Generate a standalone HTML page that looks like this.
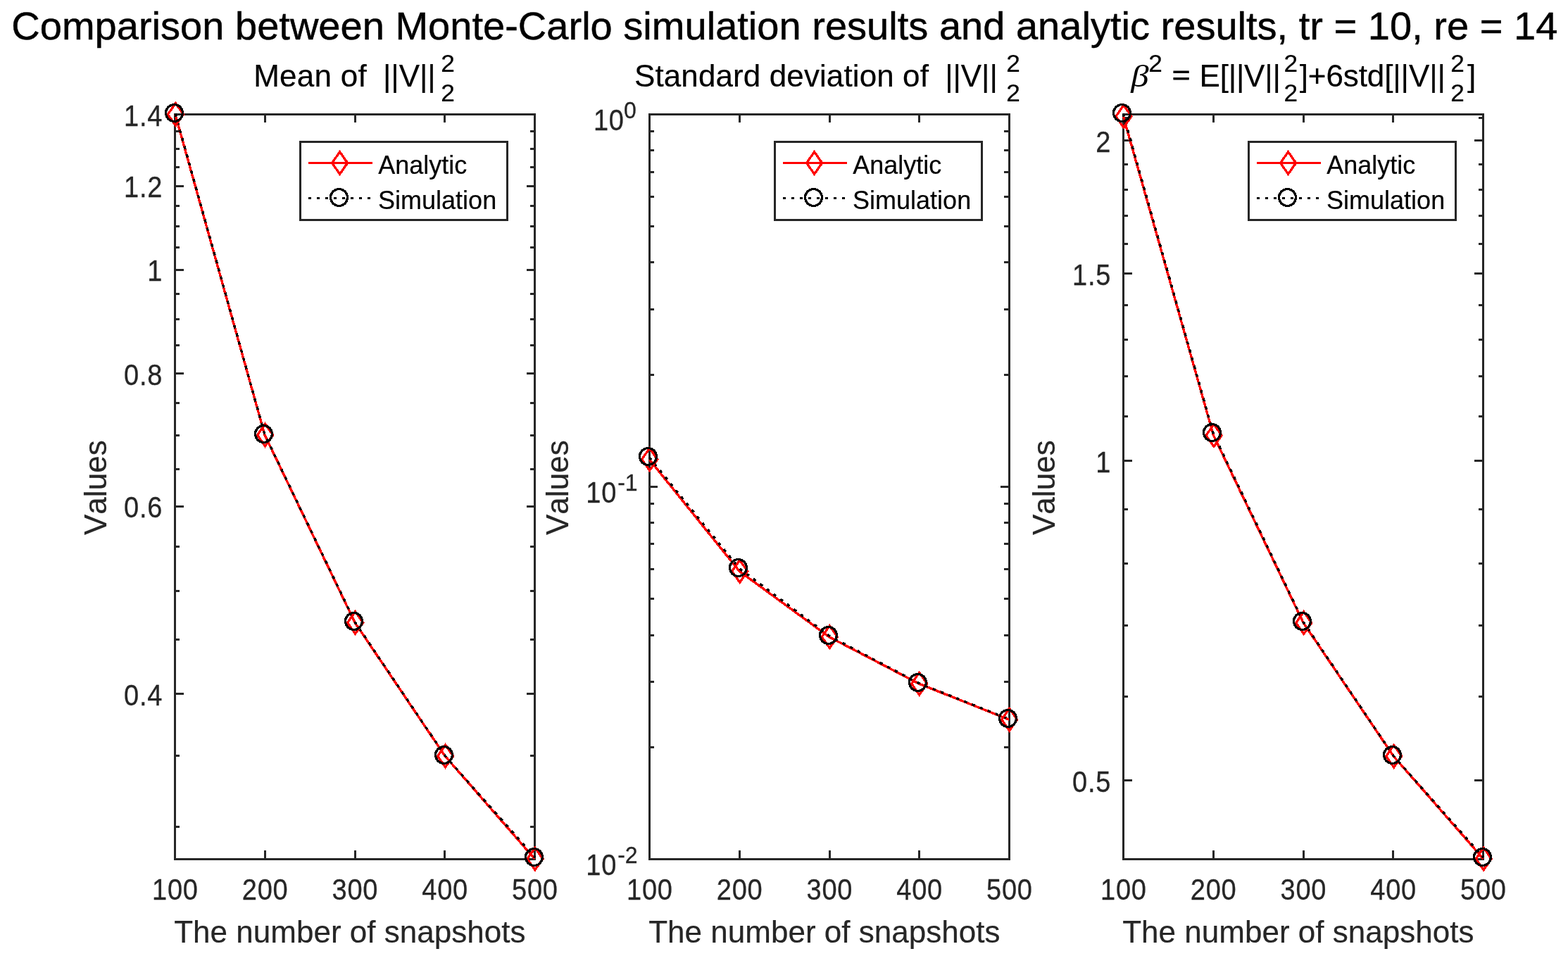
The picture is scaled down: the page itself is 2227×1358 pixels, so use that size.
<!DOCTYPE html>
<html lang="en"><head><meta charset="utf-8"><title>Comparison between Monte-Carlo simulation results and analytic results</title>
<style>html,body{margin:0;padding:0;background:#fff;overflow:hidden}svg{display:block}text{font-family:"Liberation Sans",Arial,Helvetica,sans-serif;white-space:pre;font-kerning:none}</style>
</head><body>
<svg width="2227" height="1358" viewBox="0 0 2227 1358">
<rect x="0" y="0" width="2227" height="1358" fill="#ffffff"/>
<defs>
<clipPath id="c0"><rect x="247.00" y="161.00" width="514.00" height="1061.00"/></clipPath>
<clipPath id="c1"><rect x="921.00" y="161.00" width="514.00" height="1061.00"/></clipPath>
<clipPath id="c2"><rect x="1594.00" y="161.00" width="514.00" height="1061.00"/></clipPath>
</defs>
<text transform="translate(16.31,56.10) scale(1,1.000)" font-size="56.00" fill="#000" stroke="#000" stroke-width="0.50" textLength="2196.08" lengthAdjust="spacing">Comparison between Monte-Carlo simulation results and analytic results, tr = 10, re = 14</text>
<g shape-rendering="crispEdges">
<rect x="248.50" y="162.50" width="511.00" height="1058.00" fill="none" stroke="#262626" stroke-width="3"/>
<line x1="376.25" y1="1220.50" x2="376.25" y2="1208.00" stroke="#262626" stroke-width="3"/>
<line x1="376.25" y1="162.50" x2="376.25" y2="174.00" stroke="#262626" stroke-width="3"/>
<line x1="504.00" y1="1220.50" x2="504.00" y2="1208.00" stroke="#262626" stroke-width="3"/>
<line x1="504.00" y1="162.50" x2="504.00" y2="174.00" stroke="#262626" stroke-width="3"/>
<line x1="631.75" y1="1220.50" x2="631.75" y2="1208.00" stroke="#262626" stroke-width="3"/>
<line x1="631.75" y1="162.50" x2="631.75" y2="174.00" stroke="#262626" stroke-width="3"/>
<line x1="248.50" y1="264.53" x2="261.00" y2="264.53" stroke="#262626" stroke-width="3"/>
<line x1="759.50" y1="264.53" x2="748.00" y2="264.53" stroke="#262626" stroke-width="3"/>
<line x1="248.50" y1="383.20" x2="261.00" y2="383.20" stroke="#262626" stroke-width="3"/>
<line x1="759.50" y1="383.20" x2="748.00" y2="383.20" stroke="#262626" stroke-width="3"/>
<line x1="248.50" y1="530.67" x2="261.00" y2="530.67" stroke="#262626" stroke-width="3"/>
<line x1="759.50" y1="530.67" x2="748.00" y2="530.67" stroke="#262626" stroke-width="3"/>
<line x1="248.50" y1="719.50" x2="261.00" y2="719.50" stroke="#262626" stroke-width="3"/>
<line x1="759.50" y1="719.50" x2="748.00" y2="719.50" stroke="#262626" stroke-width="3"/>
<line x1="248.50" y1="985.65" x2="261.00" y2="985.65" stroke="#262626" stroke-width="3"/>
<line x1="759.50" y1="985.65" x2="748.00" y2="985.65" stroke="#262626" stroke-width="3"/>
<line x1="248.50" y1="1174.48" x2="254.50" y2="1174.48" stroke="#262626" stroke-width="3"/>
<line x1="759.50" y1="1174.48" x2="752.90" y2="1174.48" stroke="#262626" stroke-width="3"/>
<line x1="248.50" y1="1073.30" x2="254.50" y2="1073.30" stroke="#262626" stroke-width="3"/>
<line x1="759.50" y1="1073.30" x2="752.90" y2="1073.30" stroke="#262626" stroke-width="3"/>
<line x1="248.50" y1="908.33" x2="254.50" y2="908.33" stroke="#262626" stroke-width="3"/>
<line x1="759.50" y1="908.33" x2="752.90" y2="908.33" stroke="#262626" stroke-width="3"/>
<line x1="248.50" y1="839.18" x2="254.50" y2="839.18" stroke="#262626" stroke-width="3"/>
<line x1="759.50" y1="839.18" x2="752.90" y2="839.18" stroke="#262626" stroke-width="3"/>
<line x1="248.50" y1="776.62" x2="254.50" y2="776.62" stroke="#262626" stroke-width="3"/>
<line x1="759.50" y1="776.62" x2="752.90" y2="776.62" stroke="#262626" stroke-width="3"/>
<line x1="248.50" y1="666.96" x2="254.50" y2="666.96" stroke="#262626" stroke-width="3"/>
<line x1="759.50" y1="666.96" x2="752.90" y2="666.96" stroke="#262626" stroke-width="3"/>
<line x1="248.50" y1="618.32" x2="254.50" y2="618.32" stroke="#262626" stroke-width="3"/>
<line x1="759.50" y1="618.32" x2="752.90" y2="618.32" stroke="#262626" stroke-width="3"/>
<line x1="248.50" y1="572.03" x2="254.50" y2="572.03" stroke="#262626" stroke-width="3"/>
<line x1="759.50" y1="572.03" x2="752.90" y2="572.03" stroke="#262626" stroke-width="3"/>
<line x1="248.50" y1="490.88" x2="254.50" y2="490.88" stroke="#262626" stroke-width="3"/>
<line x1="759.50" y1="490.88" x2="752.90" y2="490.88" stroke="#262626" stroke-width="3"/>
<line x1="248.50" y1="453.36" x2="254.50" y2="453.36" stroke="#262626" stroke-width="3"/>
<line x1="759.50" y1="453.36" x2="752.90" y2="453.36" stroke="#262626" stroke-width="3"/>
<line x1="248.50" y1="417.87" x2="254.50" y2="417.87" stroke="#262626" stroke-width="3"/>
<line x1="759.50" y1="417.87" x2="752.90" y2="417.87" stroke="#262626" stroke-width="3"/>
<line x1="248.50" y1="351.17" x2="254.50" y2="351.17" stroke="#262626" stroke-width="3"/>
<line x1="759.50" y1="351.17" x2="752.90" y2="351.17" stroke="#262626" stroke-width="3"/>
<line x1="248.50" y1="321.64" x2="254.50" y2="321.64" stroke="#262626" stroke-width="3"/>
<line x1="759.50" y1="321.64" x2="752.90" y2="321.64" stroke="#262626" stroke-width="3"/>
<line x1="248.50" y1="292.46" x2="254.50" y2="292.46" stroke="#262626" stroke-width="3"/>
<line x1="759.50" y1="292.46" x2="752.90" y2="292.46" stroke="#262626" stroke-width="3"/>
<line x1="248.50" y1="237.73" x2="254.50" y2="237.73" stroke="#262626" stroke-width="3"/>
<line x1="759.50" y1="237.73" x2="752.90" y2="237.73" stroke="#262626" stroke-width="3"/>
<line x1="248.50" y1="211.99" x2="254.50" y2="211.99" stroke="#262626" stroke-width="3"/>
<line x1="759.50" y1="211.99" x2="752.90" y2="211.99" stroke="#262626" stroke-width="3"/>
<line x1="248.50" y1="186.21" x2="254.50" y2="186.21" stroke="#262626" stroke-width="3"/>
<line x1="759.50" y1="186.21" x2="752.90" y2="186.21" stroke="#262626" stroke-width="3"/>
</g>
<text transform="translate(248.90,1277.80) scale(0.950,1.040)" font-size="40.00" fill="#262626" stroke="#262626" stroke-width="0.30" text-anchor="middle" letter-spacing="0.85">100</text>
<text transform="translate(376.65,1277.80) scale(0.950,1.040)" font-size="40.00" fill="#262626" stroke="#262626" stroke-width="0.30" text-anchor="middle" letter-spacing="0.85">200</text>
<text transform="translate(504.40,1277.80) scale(0.950,1.040)" font-size="40.00" fill="#262626" stroke="#262626" stroke-width="0.30" text-anchor="middle" letter-spacing="0.85">300</text>
<text transform="translate(632.15,1277.80) scale(0.950,1.040)" font-size="40.00" fill="#262626" stroke="#262626" stroke-width="0.30" text-anchor="middle" letter-spacing="0.85">400</text>
<text transform="translate(759.90,1277.80) scale(0.950,1.040)" font-size="40.00" fill="#262626" stroke="#262626" stroke-width="0.30" text-anchor="middle" letter-spacing="0.85">500</text>
<text transform="translate(247.21,1338.80) scale(1,1.000)" font-size="44.00" fill="#262626" stroke="#262626" stroke-width="0.20" textLength="499.28" lengthAdjust="spacing">The number of snapshots</text>
<text transform="translate(151.00,760.10) rotate(-90)" font-size="44" fill="#262626" stroke="#262626" stroke-width="0.2" textLength="134.8" lengthAdjust="spacing">Values</text>
<text transform="translate(231.31,179.24) scale(0.950,1.040)" font-size="40.00" fill="#262626" stroke="#262626" stroke-width="0.30" text-anchor="end" letter-spacing="0.85">1.4</text>
<text transform="translate(231.31,280.43) scale(0.950,1.040)" font-size="40.00" fill="#262626" stroke="#262626" stroke-width="0.30" text-anchor="end" letter-spacing="0.85">1.2</text>
<text transform="translate(231.31,399.10) scale(0.950,1.040)" font-size="40.00" fill="#262626" stroke="#262626" stroke-width="0.30" text-anchor="end" letter-spacing="0.85">1</text>
<text transform="translate(231.31,546.57) scale(0.950,1.040)" font-size="40.00" fill="#262626" stroke="#262626" stroke-width="0.30" text-anchor="end" letter-spacing="0.85">0.8</text>
<text transform="translate(231.31,735.40) scale(0.950,1.040)" font-size="40.00" fill="#262626" stroke="#262626" stroke-width="0.30" text-anchor="end" letter-spacing="0.85">0.6</text>
<text transform="translate(231.31,1001.55) scale(0.950,1.040)" font-size="40.00" fill="#262626" stroke="#262626" stroke-width="0.30" text-anchor="end" letter-spacing="0.85">0.4</text>
<g shape-rendering="crispEdges" fill="none">
<polyline points="248.90,162.50 376.10,618.00 504.10,884.50 632.10,1074.00 759.40,1220.00" stroke="#ff0000" stroke-width="3.4" stroke-linejoin="round" clip-path="url(#c0)"/>
<polyline points="249.10,161.50 376.10,617.50 504.10,883.50 632.10,1073.50 760.10,1218.50" stroke="#000000" stroke-width="3.3" stroke-dasharray="4.5 7.5" clip-path="url(#c0)"/>
<polygon points="249.40,146.70 260.40,162.50 249.40,178.30 238.40,162.50" stroke="#ff0000" stroke-width="3.3" stroke-linejoin="miter"/>
<polygon points="376.60,602.20 387.60,618.00 376.60,633.80 365.60,618.00" stroke="#ff0000" stroke-width="3.3" stroke-linejoin="miter"/>
<polygon points="504.60,868.70 515.60,884.50 504.60,900.30 493.60,884.50" stroke="#ff0000" stroke-width="3.3" stroke-linejoin="miter"/>
<polygon points="632.60,1058.20 643.60,1074.00 632.60,1089.80 621.60,1074.00" stroke="#ff0000" stroke-width="3.3" stroke-linejoin="miter"/>
<polygon points="759.90,1204.20 770.90,1220.00 759.90,1235.80 748.90,1220.00" stroke="#ff0000" stroke-width="3.3" stroke-linejoin="miter"/>
<circle cx="247.50" cy="160.50" r="12" stroke="#000000" stroke-width="3.2"/>
<circle cx="374.50" cy="616.50" r="12" stroke="#000000" stroke-width="3.2"/>
<circle cx="502.50" cy="882.50" r="12" stroke="#000000" stroke-width="3.2"/>
<circle cx="630.50" cy="1072.50" r="12" stroke="#000000" stroke-width="3.2"/>
<circle cx="758.50" cy="1217.50" r="12" stroke="#000000" stroke-width="3.2"/>
</g>
<g shape-rendering="crispEdges" fill="none">
<rect x="426.50" y="201.5" width="294" height="111" fill="#ffffff" stroke="#262626" stroke-width="3"/>
<line x1="438.00" y1="231.50" x2="529.00" y2="231.50" stroke="#ff0000" stroke-width="3"/>
<polygon points="482.60,215.70 493.60,231.50 482.60,247.30 471.60,231.50" stroke="#ff0000" stroke-width="3.3" stroke-linejoin="miter"/>
<line x1="438.00" y1="281.50" x2="529.00" y2="281.50" stroke="#000000" stroke-width="3" stroke-dasharray="4 8"/>
<circle cx="481.50" cy="280.5" r="12" stroke="#000000" stroke-width="3.2"/>
</g>
<text transform="translate(537.13,246.70) scale(1,1.000)" font-size="36.00" fill="#000" stroke="#000" stroke-width="0.20">Analytic</text>
<text transform="translate(537.07,296.80) scale(1,1.000)" font-size="36.00" fill="#000" stroke="#000" stroke-width="0.20">Simulation</text>
<g shape-rendering="crispEdges">
<rect x="922.50" y="162.50" width="511.00" height="1058.00" fill="none" stroke="#262626" stroke-width="3"/>
<line x1="1050.25" y1="1220.50" x2="1050.25" y2="1208.00" stroke="#262626" stroke-width="3"/>
<line x1="1050.25" y1="162.50" x2="1050.25" y2="174.00" stroke="#262626" stroke-width="3"/>
<line x1="1178.00" y1="1220.50" x2="1178.00" y2="1208.00" stroke="#262626" stroke-width="3"/>
<line x1="1178.00" y1="162.50" x2="1178.00" y2="174.00" stroke="#262626" stroke-width="3"/>
<line x1="1305.75" y1="1220.50" x2="1305.75" y2="1208.00" stroke="#262626" stroke-width="3"/>
<line x1="1305.75" y1="162.50" x2="1305.75" y2="174.00" stroke="#262626" stroke-width="3"/>
<line x1="922.50" y1="691.50" x2="934.00" y2="691.50" stroke="#262626" stroke-width="3"/>
<line x1="1433.50" y1="691.50" x2="1421.00" y2="691.50" stroke="#262626" stroke-width="3"/>
<line x1="922.50" y1="532.26" x2="928.50" y2="532.26" stroke="#262626" stroke-width="3"/>
<line x1="1433.50" y1="532.26" x2="1425.90" y2="532.26" stroke="#262626" stroke-width="3"/>
<line x1="922.50" y1="439.10" x2="928.50" y2="439.10" stroke="#262626" stroke-width="3"/>
<line x1="1433.50" y1="439.10" x2="1425.90" y2="439.10" stroke="#262626" stroke-width="3"/>
<line x1="922.50" y1="372.01" x2="928.50" y2="372.01" stroke="#262626" stroke-width="3"/>
<line x1="1433.50" y1="372.01" x2="1425.90" y2="372.01" stroke="#262626" stroke-width="3"/>
<line x1="922.50" y1="321.74" x2="928.50" y2="321.74" stroke="#262626" stroke-width="3"/>
<line x1="1433.50" y1="321.74" x2="1425.90" y2="321.74" stroke="#262626" stroke-width="3"/>
<line x1="922.50" y1="279.86" x2="928.50" y2="279.86" stroke="#262626" stroke-width="3"/>
<line x1="1433.50" y1="279.86" x2="1425.90" y2="279.86" stroke="#262626" stroke-width="3"/>
<line x1="922.50" y1="244.44" x2="928.50" y2="244.44" stroke="#262626" stroke-width="3"/>
<line x1="1433.50" y1="244.44" x2="1425.90" y2="244.44" stroke="#262626" stroke-width="3"/>
<line x1="922.50" y1="213.77" x2="928.50" y2="213.77" stroke="#262626" stroke-width="3"/>
<line x1="1433.50" y1="213.77" x2="1425.90" y2="213.77" stroke="#262626" stroke-width="3"/>
<line x1="922.50" y1="186.71" x2="928.50" y2="186.71" stroke="#262626" stroke-width="3"/>
<line x1="1433.50" y1="186.71" x2="1425.90" y2="186.71" stroke="#262626" stroke-width="3"/>
<line x1="922.50" y1="1061.26" x2="928.50" y2="1061.26" stroke="#262626" stroke-width="3"/>
<line x1="1433.50" y1="1061.26" x2="1425.90" y2="1061.26" stroke="#262626" stroke-width="3"/>
<line x1="922.50" y1="968.10" x2="928.50" y2="968.10" stroke="#262626" stroke-width="3"/>
<line x1="1433.50" y1="968.10" x2="1425.90" y2="968.10" stroke="#262626" stroke-width="3"/>
<line x1="922.50" y1="902.01" x2="928.50" y2="902.01" stroke="#262626" stroke-width="3"/>
<line x1="1433.50" y1="902.01" x2="1425.90" y2="902.01" stroke="#262626" stroke-width="3"/>
<line x1="922.50" y1="850.74" x2="928.50" y2="850.74" stroke="#262626" stroke-width="3"/>
<line x1="1433.50" y1="850.74" x2="1425.90" y2="850.74" stroke="#262626" stroke-width="3"/>
<line x1="922.50" y1="808.86" x2="928.50" y2="808.86" stroke="#262626" stroke-width="3"/>
<line x1="1433.50" y1="808.86" x2="1425.90" y2="808.86" stroke="#262626" stroke-width="3"/>
<line x1="922.50" y1="772.44" x2="928.50" y2="772.44" stroke="#262626" stroke-width="3"/>
<line x1="1433.50" y1="772.44" x2="1425.90" y2="772.44" stroke="#262626" stroke-width="3"/>
<line x1="922.50" y1="742.77" x2="928.50" y2="742.77" stroke="#262626" stroke-width="3"/>
<line x1="1433.50" y1="742.77" x2="1425.90" y2="742.77" stroke="#262626" stroke-width="3"/>
<line x1="922.50" y1="715.71" x2="928.50" y2="715.71" stroke="#262626" stroke-width="3"/>
<line x1="1433.50" y1="715.71" x2="1425.90" y2="715.71" stroke="#262626" stroke-width="3"/>
</g>
<text transform="translate(922.90,1277.80) scale(0.950,1.040)" font-size="40.00" fill="#262626" stroke="#262626" stroke-width="0.30" text-anchor="middle" letter-spacing="0.85">100</text>
<text transform="translate(1050.65,1277.80) scale(0.950,1.040)" font-size="40.00" fill="#262626" stroke="#262626" stroke-width="0.30" text-anchor="middle" letter-spacing="0.85">200</text>
<text transform="translate(1178.40,1277.80) scale(0.950,1.040)" font-size="40.00" fill="#262626" stroke="#262626" stroke-width="0.30" text-anchor="middle" letter-spacing="0.85">300</text>
<text transform="translate(1306.15,1277.80) scale(0.950,1.040)" font-size="40.00" fill="#262626" stroke="#262626" stroke-width="0.30" text-anchor="middle" letter-spacing="0.85">400</text>
<text transform="translate(1433.90,1277.80) scale(0.950,1.040)" font-size="40.00" fill="#262626" stroke="#262626" stroke-width="0.30" text-anchor="middle" letter-spacing="0.85">500</text>
<text transform="translate(921.21,1338.80) scale(1,1.000)" font-size="44.00" fill="#262626" stroke="#262626" stroke-width="0.20" textLength="499.28" lengthAdjust="spacing">The number of snapshots</text>
<text transform="translate(807.00,760.10) rotate(-90)" font-size="44" fill="#262626" stroke="#262626" stroke-width="0.2" textLength="134.8" lengthAdjust="spacing">Values</text>
<text transform="translate(903.80,167.80) scale(1.000,1.020)" font-size="32.00" fill="#262626" stroke="#262626" stroke-width="0.30" text-anchor="end">0</text>
<text transform="translate(886.81,185.40) scale(0.950,1.040)" font-size="40.00" fill="#262626" stroke="#262626" stroke-width="0.30" text-anchor="end" letter-spacing="0.85">10</text>
<text transform="translate(905.60,697.40) scale(1.000,1.020)" font-size="32.00" fill="#262626" stroke="#262626" stroke-width="0.30" text-anchor="end">-1</text>
<text transform="translate(876.15,714.40) scale(0.950,1.040)" font-size="40.00" fill="#262626" stroke="#262626" stroke-width="0.30" text-anchor="end" letter-spacing="0.85">10</text>
<text transform="translate(905.60,1226.40) scale(1.000,1.020)" font-size="32.00" fill="#262626" stroke="#262626" stroke-width="0.30" text-anchor="end">-2</text>
<text transform="translate(876.15,1243.40) scale(0.950,1.040)" font-size="40.00" fill="#262626" stroke="#262626" stroke-width="0.30" text-anchor="end" letter-spacing="0.85">10</text>
<g shape-rendering="crispEdges" fill="none">
<polyline points="922.10,652.50 1050.20,811.50 1177.80,904.80 1305.20,971.20 1433.10,1022.20" stroke="#ff0000" stroke-width="3.4" stroke-linejoin="round" clip-path="url(#c1)"/>
<polyline points="922.10,649.50 1050.10,807.50 1178.10,903.50 1305.10,970.50 1433.10,1021.50" stroke="#000000" stroke-width="3.3" stroke-dasharray="4.5 7.5" clip-path="url(#c1)"/>
<polygon points="922.60,636.70 933.60,652.50 922.60,668.30 911.60,652.50" stroke="#ff0000" stroke-width="3.3" stroke-linejoin="miter"/>
<polygon points="1050.70,795.70 1061.70,811.50 1050.70,827.30 1039.70,811.50" stroke="#ff0000" stroke-width="3.3" stroke-linejoin="miter"/>
<polygon points="1178.30,889.00 1189.30,904.80 1178.30,920.60 1167.30,904.80" stroke="#ff0000" stroke-width="3.3" stroke-linejoin="miter"/>
<polygon points="1305.70,955.40 1316.70,971.20 1305.70,987.00 1294.70,971.20" stroke="#ff0000" stroke-width="3.3" stroke-linejoin="miter"/>
<polygon points="1433.60,1006.40 1444.60,1022.20 1433.60,1038.00 1422.60,1022.20" stroke="#ff0000" stroke-width="3.3" stroke-linejoin="miter"/>
<circle cx="920.50" cy="648.50" r="12" stroke="#000000" stroke-width="3.2"/>
<circle cx="1048.50" cy="806.50" r="12" stroke="#000000" stroke-width="3.2"/>
<circle cx="1176.50" cy="902.50" r="12" stroke="#000000" stroke-width="3.2"/>
<circle cx="1303.50" cy="969.50" r="12" stroke="#000000" stroke-width="3.2"/>
<circle cx="1431.50" cy="1020.50" r="12" stroke="#000000" stroke-width="3.2"/>
</g>
<g shape-rendering="crispEdges" fill="none">
<rect x="1100.50" y="201.5" width="294" height="111" fill="#ffffff" stroke="#262626" stroke-width="3"/>
<line x1="1112.00" y1="231.50" x2="1203.00" y2="231.50" stroke="#ff0000" stroke-width="3"/>
<polygon points="1156.60,215.70 1167.60,231.50 1156.60,247.30 1145.60,231.50" stroke="#ff0000" stroke-width="3.3" stroke-linejoin="miter"/>
<line x1="1112.00" y1="281.50" x2="1203.00" y2="281.50" stroke="#000000" stroke-width="3" stroke-dasharray="4 8"/>
<circle cx="1155.50" cy="280.5" r="12" stroke="#000000" stroke-width="3.2"/>
</g>
<text transform="translate(1211.13,246.70) scale(1,1.000)" font-size="36.00" fill="#000" stroke="#000" stroke-width="0.20">Analytic</text>
<text transform="translate(1211.07,296.80) scale(1,1.000)" font-size="36.00" fill="#000" stroke="#000" stroke-width="0.20">Simulation</text>
<g shape-rendering="crispEdges">
<rect x="1595.50" y="162.50" width="511.00" height="1058.00" fill="none" stroke="#262626" stroke-width="3"/>
<line x1="1723.25" y1="1220.50" x2="1723.25" y2="1208.00" stroke="#262626" stroke-width="3"/>
<line x1="1723.25" y1="162.50" x2="1723.25" y2="174.00" stroke="#262626" stroke-width="3"/>
<line x1="1851.00" y1="1220.50" x2="1851.00" y2="1208.00" stroke="#262626" stroke-width="3"/>
<line x1="1851.00" y1="162.50" x2="1851.00" y2="174.00" stroke="#262626" stroke-width="3"/>
<line x1="1978.75" y1="1220.50" x2="1978.75" y2="1208.00" stroke="#262626" stroke-width="3"/>
<line x1="1978.75" y1="162.50" x2="1978.75" y2="174.00" stroke="#262626" stroke-width="3"/>
<line x1="1595.50" y1="199.49" x2="1608.00" y2="199.49" stroke="#262626" stroke-width="3"/>
<line x1="2106.50" y1="199.49" x2="2094.00" y2="199.49" stroke="#262626" stroke-width="3"/>
<line x1="1595.50" y1="388.34" x2="1608.00" y2="388.34" stroke="#262626" stroke-width="3"/>
<line x1="2106.50" y1="388.34" x2="2094.00" y2="388.34" stroke="#262626" stroke-width="3"/>
<line x1="1595.50" y1="654.50" x2="1608.00" y2="654.50" stroke="#262626" stroke-width="3"/>
<line x1="2106.50" y1="654.50" x2="2094.00" y2="654.50" stroke="#262626" stroke-width="3"/>
<line x1="1595.50" y1="1108.51" x2="1608.00" y2="1108.51" stroke="#262626" stroke-width="3"/>
<line x1="2106.50" y1="1108.51" x2="2094.00" y2="1108.51" stroke="#262626" stroke-width="3"/>
<line x1="1595.50" y1="989.82" x2="1601.50" y2="989.82" stroke="#262626" stroke-width="3"/>
<line x1="2106.50" y1="989.82" x2="2099.90" y2="989.82" stroke="#262626" stroke-width="3"/>
<line x1="1595.50" y1="888.63" x2="1601.50" y2="888.63" stroke="#262626" stroke-width="3"/>
<line x1="2106.50" y1="888.63" x2="2099.90" y2="888.63" stroke="#262626" stroke-width="3"/>
<line x1="1595.50" y1="800.98" x2="1601.50" y2="800.98" stroke="#262626" stroke-width="3"/>
<line x1="2106.50" y1="800.98" x2="2099.90" y2="800.98" stroke="#262626" stroke-width="3"/>
<line x1="1595.50" y1="723.66" x2="1601.50" y2="723.66" stroke="#262626" stroke-width="3"/>
<line x1="2106.50" y1="723.66" x2="2099.90" y2="723.66" stroke="#262626" stroke-width="3"/>
<line x1="1595.50" y1="591.93" x2="1601.50" y2="591.93" stroke="#262626" stroke-width="3"/>
<line x1="2106.50" y1="591.93" x2="2099.90" y2="591.93" stroke="#262626" stroke-width="3"/>
<line x1="1595.50" y1="534.82" x2="1601.50" y2="534.82" stroke="#262626" stroke-width="3"/>
<line x1="2106.50" y1="534.82" x2="2099.90" y2="534.82" stroke="#262626" stroke-width="3"/>
<line x1="1595.50" y1="482.27" x2="1601.50" y2="482.27" stroke="#262626" stroke-width="3"/>
<line x1="2106.50" y1="482.27" x2="2099.90" y2="482.27" stroke="#262626" stroke-width="3"/>
<line x1="1595.50" y1="433.63" x2="1601.50" y2="433.63" stroke="#262626" stroke-width="3"/>
<line x1="2106.50" y1="433.63" x2="2099.90" y2="433.63" stroke="#262626" stroke-width="3"/>
<line x1="1595.50" y1="346.97" x2="1601.50" y2="346.97" stroke="#262626" stroke-width="3"/>
<line x1="2106.50" y1="346.97" x2="2099.90" y2="346.97" stroke="#262626" stroke-width="3"/>
<line x1="1595.50" y1="306.18" x2="1601.50" y2="306.18" stroke="#262626" stroke-width="3"/>
<line x1="2106.50" y1="306.18" x2="2099.90" y2="306.18" stroke="#262626" stroke-width="3"/>
<line x1="1595.50" y1="269.66" x2="1601.50" y2="269.66" stroke="#262626" stroke-width="3"/>
<line x1="2106.50" y1="269.66" x2="2099.90" y2="269.66" stroke="#262626" stroke-width="3"/>
<line x1="1595.50" y1="233.16" x2="1601.50" y2="233.16" stroke="#262626" stroke-width="3"/>
<line x1="2106.50" y1="233.16" x2="2099.90" y2="233.16" stroke="#262626" stroke-width="3"/>
<line x1="1595.50" y1="167.47" x2="1601.50" y2="167.47" stroke="#262626" stroke-width="3"/>
<line x1="2106.50" y1="167.47" x2="2099.90" y2="167.47" stroke="#262626" stroke-width="3"/>
</g>
<text transform="translate(1595.90,1277.80) scale(0.950,1.040)" font-size="40.00" fill="#262626" stroke="#262626" stroke-width="0.30" text-anchor="middle" letter-spacing="0.85">100</text>
<text transform="translate(1723.65,1277.80) scale(0.950,1.040)" font-size="40.00" fill="#262626" stroke="#262626" stroke-width="0.30" text-anchor="middle" letter-spacing="0.85">200</text>
<text transform="translate(1851.40,1277.80) scale(0.950,1.040)" font-size="40.00" fill="#262626" stroke="#262626" stroke-width="0.30" text-anchor="middle" letter-spacing="0.85">300</text>
<text transform="translate(1979.15,1277.80) scale(0.950,1.040)" font-size="40.00" fill="#262626" stroke="#262626" stroke-width="0.30" text-anchor="middle" letter-spacing="0.85">400</text>
<text transform="translate(2106.90,1277.80) scale(0.950,1.040)" font-size="40.00" fill="#262626" stroke="#262626" stroke-width="0.30" text-anchor="middle" letter-spacing="0.85">500</text>
<text transform="translate(1594.21,1338.80) scale(1,1.000)" font-size="44.00" fill="#262626" stroke="#262626" stroke-width="0.20" textLength="499.28" lengthAdjust="spacing">The number of snapshots</text>
<text transform="translate(1498.00,760.10) rotate(-90)" font-size="44" fill="#262626" stroke="#262626" stroke-width="0.2" textLength="134.8" lengthAdjust="spacing">Values</text>
<text transform="translate(1578.31,216.09) scale(0.950,1.040)" font-size="40.00" fill="#262626" stroke="#262626" stroke-width="0.30" text-anchor="end" letter-spacing="0.85">2</text>
<text transform="translate(1578.31,404.94) scale(0.950,1.040)" font-size="40.00" fill="#262626" stroke="#262626" stroke-width="0.30" text-anchor="end" letter-spacing="0.85">1.5</text>
<text transform="translate(1578.31,671.10) scale(0.950,1.040)" font-size="40.00" fill="#262626" stroke="#262626" stroke-width="0.30" text-anchor="end" letter-spacing="0.85">1</text>
<text transform="translate(1578.31,1125.11) scale(0.950,1.040)" font-size="40.00" fill="#262626" stroke="#262626" stroke-width="0.30" text-anchor="end" letter-spacing="0.85">0.5</text>
<g shape-rendering="crispEdges" fill="none">
<polyline points="1595.40,165.30 1723.50,618.50 1851.20,884.80 1979.20,1074.20 2106.70,1220.00" stroke="#ff0000" stroke-width="3.4" stroke-linejoin="round" clip-path="url(#c2)"/>
<polyline points="1595.10,161.50 1723.10,615.50 1851.10,883.50 1979.10,1073.50 2107.10,1218.50" stroke="#000000" stroke-width="3.3" stroke-dasharray="4.5 7.5" clip-path="url(#c2)"/>
<polygon points="1595.90,149.50 1606.90,165.30 1595.90,181.10 1584.90,165.30" stroke="#ff0000" stroke-width="3.3" stroke-linejoin="miter"/>
<polygon points="1724.00,602.70 1735.00,618.50 1724.00,634.30 1713.00,618.50" stroke="#ff0000" stroke-width="3.3" stroke-linejoin="miter"/>
<polygon points="1851.70,869.00 1862.70,884.80 1851.70,900.60 1840.70,884.80" stroke="#ff0000" stroke-width="3.3" stroke-linejoin="miter"/>
<polygon points="1979.70,1058.40 1990.70,1074.20 1979.70,1090.00 1968.70,1074.20" stroke="#ff0000" stroke-width="3.3" stroke-linejoin="miter"/>
<polygon points="2107.20,1204.20 2118.20,1220.00 2107.20,1235.80 2096.20,1220.00" stroke="#ff0000" stroke-width="3.3" stroke-linejoin="miter"/>
<circle cx="1593.50" cy="160.50" r="12" stroke="#000000" stroke-width="3.2"/>
<circle cx="1721.50" cy="614.50" r="12" stroke="#000000" stroke-width="3.2"/>
<circle cx="1849.50" cy="882.50" r="12" stroke="#000000" stroke-width="3.2"/>
<circle cx="1977.50" cy="1072.50" r="12" stroke="#000000" stroke-width="3.2"/>
<circle cx="2105.50" cy="1217.50" r="12" stroke="#000000" stroke-width="3.2"/>
</g>
<g shape-rendering="crispEdges" fill="none">
<rect x="1773.50" y="201.5" width="294" height="111" fill="#ffffff" stroke="#262626" stroke-width="3"/>
<line x1="1785.00" y1="231.50" x2="1876.00" y2="231.50" stroke="#ff0000" stroke-width="3"/>
<polygon points="1829.60,215.70 1840.60,231.50 1829.60,247.30 1818.60,231.50" stroke="#ff0000" stroke-width="3.3" stroke-linejoin="miter"/>
<line x1="1785.00" y1="281.50" x2="1876.00" y2="281.50" stroke="#000000" stroke-width="3" stroke-dasharray="4 8"/>
<circle cx="1828.50" cy="280.5" r="12" stroke="#000000" stroke-width="3.2"/>
</g>
<text transform="translate(1884.13,246.70) scale(1,1.000)" font-size="36.00" fill="#000" stroke="#000" stroke-width="0.20">Analytic</text>
<text transform="translate(1884.07,296.80) scale(1,1.000)" font-size="36.00" fill="#000" stroke="#000" stroke-width="0.20">Simulation</text>
<text transform="translate(360.19,122.90) scale(1,1.000)" font-size="44.00" fill="#000" stroke="#000" stroke-width="0.20" textLength="160.54" lengthAdjust="spacing">Mean of</text>
<text transform="translate(544.07,122.90) scale(1,1.000)" font-size="44.00" fill="#000" stroke="#000" stroke-width="0.20" textLength="74.56" lengthAdjust="spacing">||V||</text>
<text transform="translate(626.13,101.90) scale(1,1.015)" font-size="35.20" fill="#000" stroke="#000" stroke-width="0.20">2</text>
<text transform="translate(626.13,144.00) scale(1,1.015)" font-size="35.20" fill="#000" stroke="#000" stroke-width="0.20">2</text>
<text transform="translate(901.00,122.90) scale(1,1.000)" font-size="44.00" fill="#000" stroke="#000" stroke-width="0.20" textLength="417.93" lengthAdjust="spacing">Standard deviation of</text>
<text transform="translate(1342.17,122.90) scale(1,1.000)" font-size="44.00" fill="#000" stroke="#000" stroke-width="0.20" textLength="74.66" lengthAdjust="spacing">||V||</text>
<text transform="translate(1429.23,101.90) scale(1,1.015)" font-size="35.20" fill="#000" stroke="#000" stroke-width="0.20">2</text>
<text transform="translate(1429.23,144.00) scale(1,1.015)" font-size="35.20" fill="#000" stroke="#000" stroke-width="0.20">2</text>
<text transform="translate(1606.2,123.0) scale(1.13,1)" style="font-family:&quot;Liberation Serif&quot;,serif;font-style:italic" font-size="45" fill="#000">β</text>
<text transform="translate(1631.33,101.90) scale(1,1.015)" font-size="35.20" fill="#000" stroke="#000" stroke-width="0.20">2</text>
<text transform="translate(1664.8,119.3) scale(1,0.85)" font-size="44" fill="#000" stroke="#000" stroke-width="0.9">=</text>
<text transform="translate(1703.49,122.90) scale(1,1.000)" font-size="44.00" fill="#000" stroke="#000" stroke-width="0.20" textLength="115.44" lengthAdjust="spacing">E[||V||</text>
<text transform="translate(1823.53,101.90) scale(1,1.015)" font-size="35.20" fill="#000" stroke="#000" stroke-width="0.20">2</text>
<text transform="translate(1823.53,144.00) scale(1,1.015)" font-size="35.20" fill="#000" stroke="#000" stroke-width="0.20">2</text>
<text transform="translate(1845.76,122.90) scale(1,1.000)" font-size="44.00" fill="#000" stroke="#000" stroke-width="0.20" textLength="207.18" lengthAdjust="spacing">]+6std[||V||</text>
<text transform="translate(2060.23,101.90) scale(1,1.015)" font-size="35.20" fill="#000" stroke="#000" stroke-width="0.20">2</text>
<text transform="translate(2060.23,144.00) scale(1,1.015)" font-size="35.20" fill="#000" stroke="#000" stroke-width="0.20">2</text>
<text transform="translate(2083.96,122.90) scale(1,1.000)" font-size="44.00" fill="#000" stroke="#000" stroke-width="0.20">]</text>
</svg>
</body></html>
